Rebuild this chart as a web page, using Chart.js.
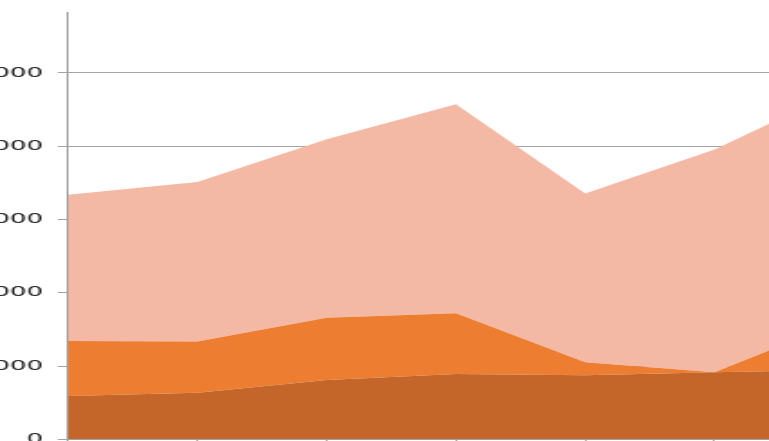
<!DOCTYPE html>
<html>
<head>
<meta charset="utf-8">
<script src="https://cdn.jsdelivr.net/npm/chart.js@4/dist/chart.umd.min.js"></script>
<style>
  html, body { margin: 0; padding: 0; width: 769px; height: 441px; overflow: hidden; background: #fff; }
  /* the source picture is stretched sideways, so the chart is too */
  #wrap { position: absolute; left: 0; top: 0; width: 479px; height: 480px; transform: scaleX(1.8); transform-origin: 0 0; }
</style>
</head>
<body>
<div id="wrap"><canvas id="areaChart"></canvas></div>
<script>
// categories (their labels fall outside the cropped picture)
const categories = ["1", "2", "3", "4", "5", "6", "7"];

// stacked series, bottom to top
const seriesBottom = [590, 635, 810, 890, 875, 915, 950];
const seriesMiddle = [750, 700, 850, 830, 175, 0, 670];
const seriesTop = [1995, 2175, 2435, 2850, 2305, 3040, 3165];

// y axis tick values
const yTicks = [0, 1000, 2000, 3000, 4000, 5000];
const yMax = 5830;

const gridGray = "#a3a3a3";

const ctx = document.getElementById("areaChart").getContext("2d");
const areaChart = new Chart(ctx, {
  type: "line",
  data: {
    labels: categories,
    datasets: [
      {
        label: "Bottom",
        data: seriesBottom,
        backgroundColor: "#c4662a",
        borderWidth: 0,
        pointRadius: 0,
        fill: "origin",
      },
      {
        label: "Middle",
        data: seriesMiddle,
        backgroundColor: "#ed7d31",
        borderWidth: 0,
        pointRadius: 0,
        fill: "-1",
      },
      {
        label: "Top",
        data: seriesTop,
        backgroundColor: "#f4b9a4",
        borderWidth: 0,
        pointRadius: 0,
        fill: "-1",
      },
    ],
  },
  options: {
    responsive: true,
    maintainAspectRatio: false,
    animation: false,
    layout: {
      padding: { top: 12, right: 10.2, left: 0, bottom: 0 }
    },
    elements: {
      line: { tension: 0 }
    },
    scales: {
      x: {
        offset: false,
        grid: {
          drawOnChartArea: false,
          drawTicks: true,
          tickLength: 5,
          color: gridGray,
        },
        border: { color: gridGray, width: 1 },
        ticks: { display: false },
        afterFit: (axis) => { axis.height = 40.7; },
      },
      y: {
        stacked: true,
        min: 0,
        max: yMax,
        grid: {
          color: gridGray,
          tickLength: 5.6,
        },
        border: { color: gridGray, width: 1 },
        ticks: {
          autoSkip: false,
          padding: 8.3,
          color: "#222",
          font: { family: "DejaVu Sans", size: 14.5 },
          callback: (v) => String(v),
        },
        // fixed tick list, the top of the axis is not a round value
        afterBuildTicks: (axis) => {
          axis.ticks = yTicks.map((v) => ({ value: v }));
        },
        afterFit: (axis) => {
          axis.width = 37.78;
          axis.paddingTop = 0;
          axis.paddingBottom = 0;
        },
      },
    },
    plugins: {
      legend: { display: false },
      tooltip: { enabled: false },
    },
  },
});
</script>
</body>
</html>
